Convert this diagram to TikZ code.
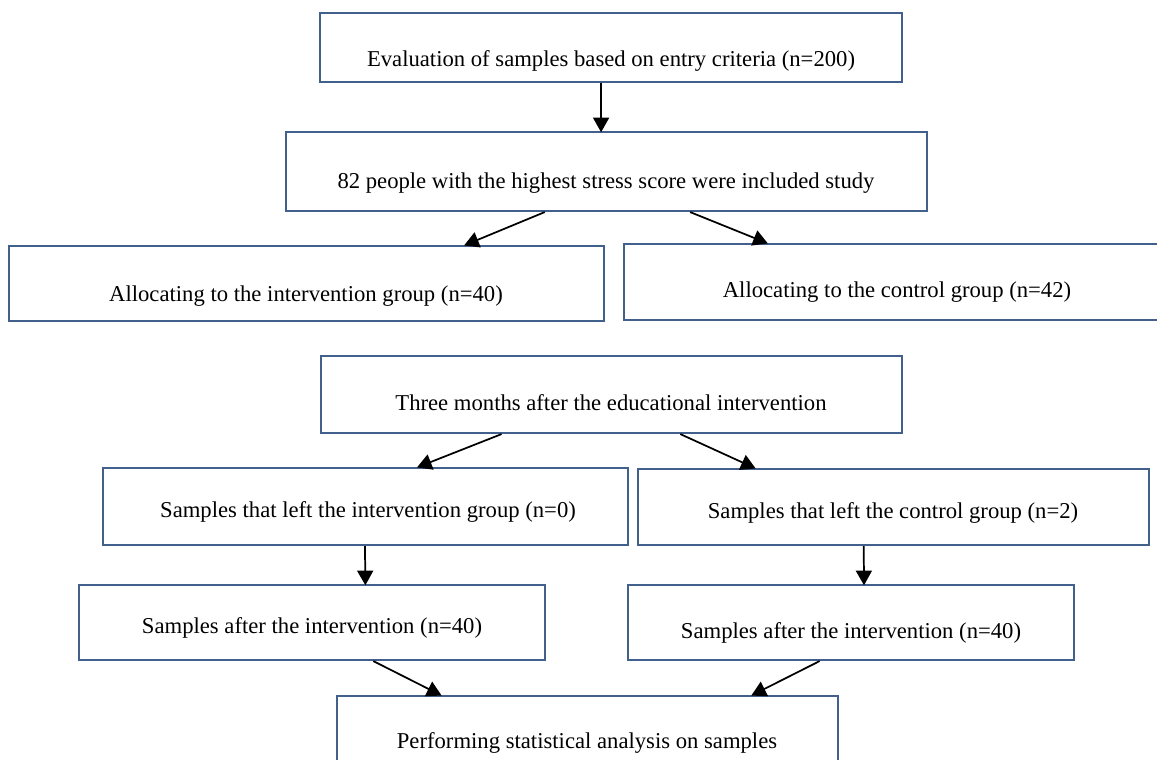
\documentclass[tikz,border=0pt]{standalone}
\usepackage{fontspec}
\setmainfont{Liberation Serif}
\usetikzlibrary{fit,calc,arrows.meta}
\definecolor{boxblue}{RGB}{65,97,140}
\tikzset{
  box/.style={draw=boxblue, line width=1.6pt, inner sep=0pt, rectangle},
  lbl/.style={anchor=mid, inner sep=0pt, font=\fontsize{17}{20}\selectfont},
  arr/.style={line width=1.3pt, -{Triangle[length=11pt,width=12pt]}, shorten >=-1pt}
}
\begin{document}
\begin{tikzpicture}[x=0.75pt,y=-0.75pt]
\useasboundingbox (0,0) rectangle (1157,760);
\clip (0,0) rectangle (1157,760);
% boxes
\node (b1) [box, fit={(320,13) (902,82)}] {};
\node (b2) [box, fit={(286,132) (927,211)}] {};
\node (b3) [box, fit={(9,246) (604,321)}] {};
\node (b4) [box, fit={(624,244) (1162,320)}] {};
\node (b5) [box, fit={(321,356) (902,433)}] {};
\node (b6) [box, fit={(103,468) (628,545)}] {};
\node (b7) [box, fit={(638,469) (1149,545)}] {};
\node (b8) [box, fit={(79,585) (545,660)}] {};
\node (b9) [box, fit={(628,585) (1074,660)}] {};
\node (b10) [box, fit={(337,696) (838,770)}] {};
% texts
\node (t1) [lbl] at (611,63) {Evaluation of samples based on entry criteria (n=200)};
\node (t2) [lbl] at (606,185) {82 people with the highest stress score were included study};
\node (t3) [lbl] at (306,298) {Allocating to the intervention group (n=40)};
\node (t4) [lbl] at (897,294) {Allocating to the control group (n=42)};
\node (t5) [lbl] at (611,407) {Three months after the educational intervention};
\node (t6) [lbl] at (368,514) {Samples that left the intervention group (n=0)};
\node (t7) [lbl] at (893,515) {Samples that left the control group (n=2)};
\node (t8) [lbl] at (312,630) {Samples after the intervention (n=40)};
\node (t9) [lbl] at (851,635) {Samples after the intervention (n=40)};
\node (t10) [lbl] at (587,745) {Performing statistical analysis on samples};
% connectors
\draw[arr] ($(b1.south west)!0.483!(b1.south east)$) -- ($(b2.north west)!0.4916!(b2.north east)$);
\draw[arr] ($(b2.south west)!0.404!(b2.south east)$) -- ($(b3.north west)!0.766!(b3.north east)$);
\draw[arr] ($(b2.south west)!0.630!(b2.south east)$) -- ($(b4.north west)!0.266!(b4.north east)$);
\draw[arr] ($(b5.south west)!0.3115!(b5.south east)$) -- ($(b6.north west)!0.600!(b6.north east)$);
\draw[arr] ($(b5.south west)!0.618!(b5.south east)$) -- ($(b7.north west)!0.229!(b7.north east)$);
\draw[arr] ($(b6.south west)!0.499!(b6.south east)$) -- ($(b8.north west)!0.614!(b8.north east)$);
\draw[arr] ($(b7.south west)!0.442!(b7.south east)$) -- ($(b9.north west)!0.529!(b9.north east)$);
\draw[arr] ($(b8.south west)!0.631!(b8.south east)$) -- ($(b10.north west)!0.2076!(b10.north east)$);
\draw[arr] ($(b9.south west)!0.430!(b9.south east)$) -- ($(b10.north west)!0.828!(b10.north east)$);
\end{tikzpicture}
\end{document}
